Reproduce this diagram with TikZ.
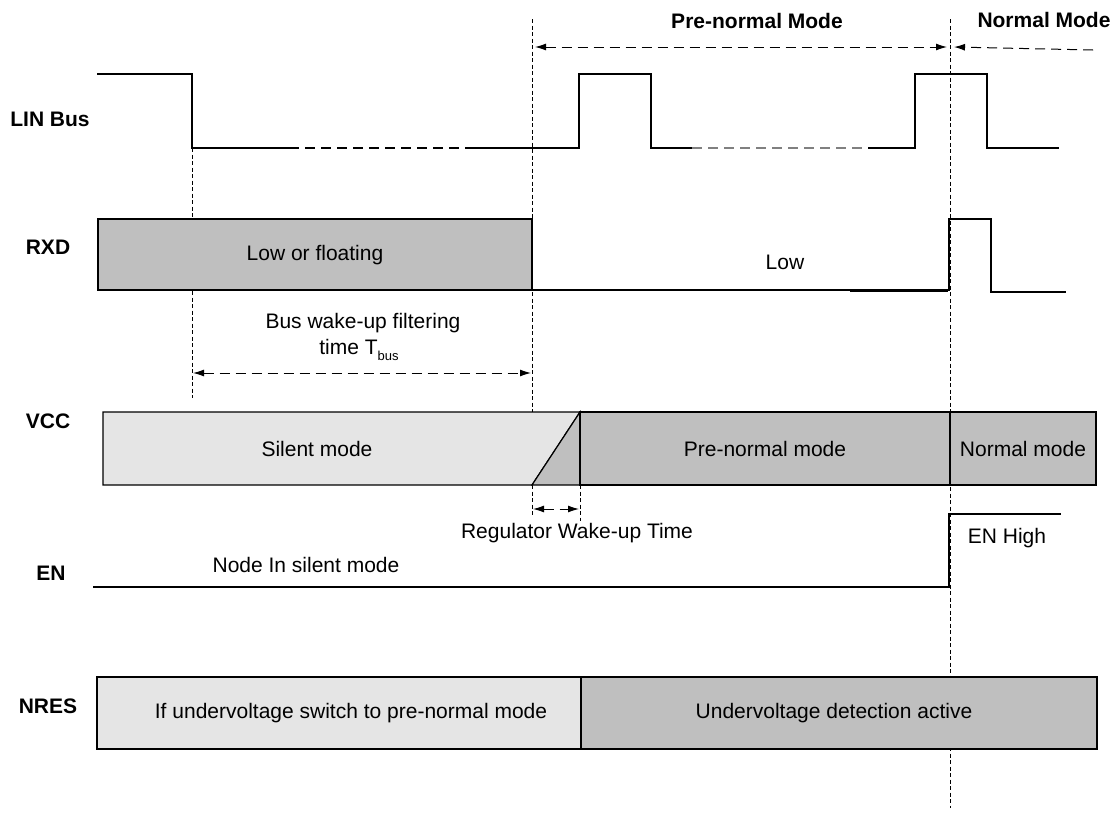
\documentclass[tikz,border=0pt]{standalone}
\usepackage{fontspec}
\setmainfont{Liberation Sans}
\usetikzlibrary{arrows.meta}
\definecolor{lightfill}{gray}{0.9}
\definecolor{darkfill}{gray}{0.75}

\begin{document}
\begin{tikzpicture}[x=1pt,y=-1pt,
  sig/.style={font=\fontsize{21}{24}\selectfont\bfseries},
  txt/.style={font=\fontsize{21}{24}\selectfont},
  wave/.style={line width=1.2pt},
  box/.style={draw,line width=1.2pt},
  guide/.style={line width=0.8pt,dash pattern=on 4pt off 2.5pt},
  span/.style={line width=1pt,dash pattern=on 10pt off 6pt,arrows={Latex[length=11pt,width=7pt]-Latex[length=11pt,width=7pt]}},
  back/.style={line width=1pt,dash pattern=on 10pt off 6pt,arrows={-Latex[length=11pt,width=7pt]}}]
\useasboundingbox (0,0) rectangle (1114,812);

\node [sig] (lin) at (50,119) {LIN Bus};
\node [sig] (rxd) at (48,247) {RXD};
\node [sig] (vcc) at (48,421) {VCC};
\node [sig] (en) at (51,573) {EN};
\node [sig] (nres) at (48,706) {NRES};
\node [sig] (pnm) at (757,21) {Pre-normal Mode};
\node [sig] (nm) at (1044,20) {Normal Mode};

\draw [guide] (192,148) -- (192,398);
\draw [guide] (532,19) -- (532,413);
\draw [guide] (532,485) -- (532,515);
\draw [guide] (580,485) -- (580,521);
\draw [guide] (950,19) -- (950,808);

\coordinate (pn1) at (535,47);
\coordinate (pn2) at (947,47);
\coordinate (nm1) at (1093,50);
\coordinate (nm2) at (954,47);
\coordinate (tb1) at (193,373);
\coordinate (tb2) at (531,373);
\coordinate (rw1) at (533,509);
\coordinate (rw2) at (579,509);
\draw [span] (pn1) -- (pn2);
\draw [back] (nm1) -- (nm2);
\draw [span] (tb1) -- (tb2);
\draw [span] (rw1) -- (rw2);

\draw [wave] (97,74) -- (192,74) -- (192,148) -- (289,148);
\draw [wave,dash pattern=on 10pt off 6pt] (289,148) -- (474,148);
\draw [wave] (474,148) -- (579,148) -- (579,74) -- (651,74) -- (651,148) -- (692,148);
\draw [wave,gray,dash pattern=on 10pt off 6pt] (692,148) -- (868,148);
\draw [wave] (868,148) -- (915,148) -- (915,74) -- (987,74) -- (987,148) -- (1059,148);

\draw [box,fill=darkfill] (98,219) rectangle (532,290);
\node [txt] (lowfl) at (315,255) {Low or floating};
\draw [wave] (532,290) -- (949,290) -- (949,219) -- (991,219) -- (991,292) -- (1066,292);
\draw [line width=2pt] (850,291) -- (948,291);
\node [txt] (low) at (785,262) {Low};

\node [txt] (bw1) at (363,323) {Bus wake-up filtering};
\node [txt] (bw2) at (359,350) {time T\raisebox{-6pt}{\fontsize{13}{13}\selectfont bus}};

\draw [box,fill=lightfill] (103,412) -- (580,412) -- (532,485) -- (103,485) -- cycle;
\draw [box,fill=darkfill] (532,485) -- (580,412) -- (580,485) -- cycle;
\draw [box,fill=darkfill] (580,412) rectangle (950,485);
\draw [box,fill=darkfill] (950,412) rectangle (1096,485);
\node [txt] (silent) at (317,449) {Silent mode};
\node [txt] (prenorm) at (765,449) {Pre-normal mode};
\node [txt] (norm) at (1023,449) {Normal mode};

\node [txt] (reg) at (577,533) {Regulator Wake-up Time};
\draw [wave] (93,587) -- (949,587) -- (949,514) -- (1061,514);
\node [txt] (enhigh) at (1007,538) {EN High};
\node [txt] (nodesil) at (306,565) {Node In silent mode};

\draw [box,fill=lightfill] (97,677) rectangle (581,749);
\draw [box,fill=darkfill] (581,677) rectangle (1097,749);
\node [txt] (uv) at (351,713) {If undervoltage switch to pre-normal mode};
\node [txt] (uvd) at (834,713) {Undervoltage detection active};
\end{tikzpicture}
\end{document}
